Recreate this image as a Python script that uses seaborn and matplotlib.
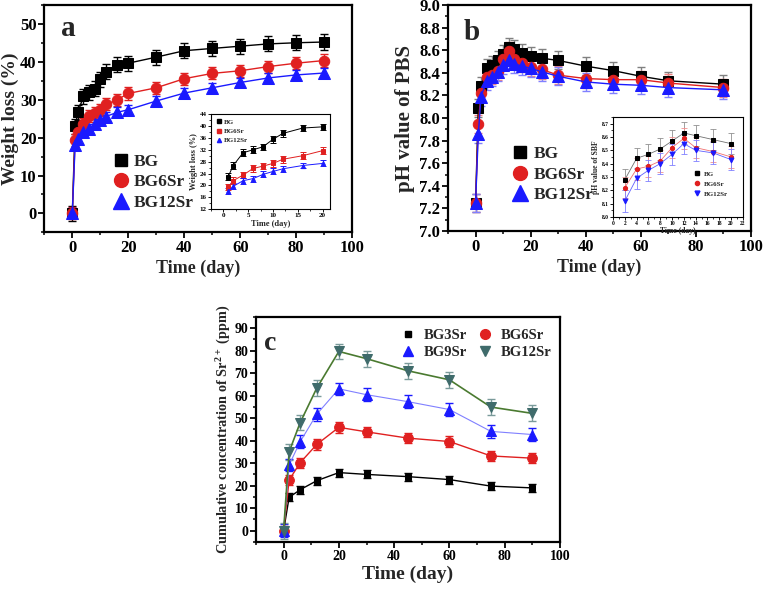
import numpy as np
import seaborn as sns
import matplotlib.pyplot as plt
from matplotlib.lines import Line2D
from matplotlib.ticker import AutoMinorLocator

# ---- panel a: weight loss ----
days_a = [0, 1, 2, 4, 6, 8, 10, 12, 16, 20, 30, 40, 50, 60, 70, 80, 90]
wl_bg = [0, 23.0, 26.7, 31.0, 32.0, 33.0, 35.5, 37.5, 39.3, 39.7, 41.3, 43.0, 43.6, 44.2, 44.8, 45.1, 45.3]
wl_bg6 = [0, 19.4, 21.6, 23.5, 25.7, 26.5, 27.4, 28.8, 30.0, 31.7, 33.2, 35.6, 37.0, 37.7, 38.8, 39.7, 40.4]
wl_bg12 = [0, 18.0, 19.7, 21.6, 22.3, 23.7, 24.7, 25.6, 26.7, 27.4, 29.7, 31.8, 33.2, 34.6, 35.8, 36.6, 37.1]
wl_err = [2.0, 1.6, 1.3]

# ---- panel b: pH of PBS ----
days_b = [0, 1, 2, 4, 6, 8, 10, 12, 14, 17, 20, 24, 30, 40, 50, 60, 70, 90]
ph_bg = [7.25, 8.09, 8.28, 8.44, 8.47, 8.51, 8.57, 8.63, 8.61, 8.58, 8.55, 8.53, 8.51, 8.46, 8.42, 8.37, 8.33, 8.30]
ph_bg6 = [7.25, 7.95, 8.22, 8.36, 8.38, 8.42, 8.52, 8.59, 8.52, 8.49, 8.45, 8.43, 8.38, 8.35, 8.34, 8.34, 8.31, 8.27]
ph_bg12 = [7.25, 7.86, 8.19, 8.33, 8.36, 8.41, 8.47, 8.51, 8.48, 8.46, 8.44, 8.41, 8.37, 8.32, 8.30, 8.29, 8.27, 8.25]
ph_err = 0.08

# inset b (SBF)
days_sbf = [2, 4, 6, 8, 10, 12, 14, 17, 20]
sbf_bg = [8.28, 8.44, 8.47, 8.51, 8.57, 8.63, 8.61, 8.58, 8.55]
sbf_bg6 = [8.22, 8.36, 8.38, 8.42, 8.52, 8.59, 8.52, 8.49, 8.45]
sbf_bg12 = [8.12, 8.29, 8.35, 8.40, 8.47, 8.55, 8.50, 8.48, 8.43]

# ---- panel c: Sr release ----
days_c = [0, 2, 6, 12, 20, 30, 45, 60, 75, 90]
sr_bg3 = [0, 14.8, 18.2, 22.2, 25.8, 25.0, 24.0, 22.7, 19.8, 19.0]
sr_bg6 = [0, 22.5, 30.2, 38.3, 45.9, 43.9, 41.1, 39.6, 33.2, 32.2]
sr_bg9 = [0, 29.2, 39.5, 51.7, 63.0, 60.4, 57.3, 53.8, 44.1, 42.7]
sr_bg12 = [0, 35.0, 48.0, 63.3, 79.6, 76.4, 71.0, 67.0, 54.9, 52.1]
sr_err = [1.8, 2.3, 2.8, 3.5]

RED = '#e02020'
BLUE = '#1a1aff'
TEAL = '#3f6b6b'
GREEN = '#4a7a30'

sns.set_style('ticks')
plt.rcParams['font.family'] = ['Liberation Serif', 'DejaVu Serif']
plt.rcParams['font.weight'] = 'bold'
plt.rcParams['axes.labelweight'] = 'bold'
plt.rcParams['mathtext.fontset'] = 'custom'
plt.rcParams['mathtext.rm'] = 'Liberation Serif:bold'
plt.rcParams['mathtext.bf'] = 'Liberation Serif:bold'

fig = plt.figure(figsize=(7.64, 5.91), dpi=100)


def style(ax, lw=1.6, size=12, tl=4, pad=2):
    for s in ax.spines.values():
        s.set_linewidth(lw)
        s.set_color('black')
    ax.tick_params(direction='out', width=lw * 0.8, length=tl, labelsize=size,
                   top=False, right=False, colors='black', pad=pad)
    ax.tick_params(which='minor', direction='out', width=lw * 0.8, length=tl * 0.6,
                   top=False, right=False)
    ax.xaxis.set_minor_locator(AutoMinorLocator(2))
    ax.yaxis.set_minor_locator(AutoMinorLocator(2))
    ax.set_facecolor('white')


def series(ax, x, y, err, color, marker, ms, ecolor=None, lcolor=None,
           lw=1.0, elw=1.0, cap=3):
    ax.errorbar(x, y, yerr=err, fmt='none', ecolor=ecolor or color, elinewidth=elw,
                capsize=cap, capthick=elw, zorder=2)
    sns.lineplot(x=x, y=y, ax=ax, color=lcolor or color, lw=lw, marker=marker,
                 markersize=ms, markeredgecolor=color, markerfacecolor=color,
                 zorder=3, legend=False, sort=False)


def proxy(color, marker, ms):
    return Line2D([], [], ls='none', marker=marker, color=color, markersize=ms)


# ---------- panel a ----------
ax_a = fig.add_axes([0.058, 0.607, 0.403, 0.384])
series(ax_a, days_a, wl_bg, wl_err[0], 'black', 's', 6.5)
series(ax_a, days_a, wl_bg6, wl_err[1], RED, 'o', 7.5)
series(ax_a, days_a, wl_bg12, wl_err[2], BLUE, '^', 8)
ax_a.set_xlim(-10, 100)
ax_a.set_ylim(-5, 55)
ax_a.set_xticks(range(0, 101, 20))
ax_a.set_yticks(range(0, 51, 10))
style(ax_a, size=12, pad=1.5)
ax_a.set_xlabel('Time (day)', fontsize=13, labelpad=3)
ax_a.set_ylabel('Weight loss (%)', fontsize=14, labelpad=1)
ax_a.text(0.055, 0.9, 'a', transform=ax_a.transAxes, fontsize=21, fontweight='bold',
          va='center')
ax_a.legend([proxy('black', 's', 9), proxy(RED, 'o', 10), proxy(BLUE, '^', 11)],
            ['BG', 'BG6Sr', 'BG12Sr'], loc='center left', bbox_to_anchor=(0.18, 0.22),
            frameon=False, fontsize=12.5, handlelength=0.7, handletextpad=0.35,
            labelspacing=0.25)

# inset a
ia = fig.add_axes([0.276, 0.646, 0.156, 0.161])
n = 10
series(ia, days_a[1:n], wl_bg[1:n], 1.1, 'black', 's', 3, lw=0.7, elw=0.7, cap=2)
series(ia, days_a[1:n], wl_bg6[1:n], 1.1, RED, 's', 3, lw=0.7, elw=0.7, cap=2)
series(ia, days_a[1:n], wl_bg12[1:n], 1.0, BLUE, '^', 3, lw=0.7, elw=0.7, cap=2)
ia.set_xlim(-2.5, 21.5)
ia.set_ylim(12, 44)
ia.set_xticks(range(0, 21, 5))
ia.set_yticks(range(12, 45, 4))
style(ia, lw=0.8, size=5, tl=2, pad=1)
ia.set_xlabel('Time (day)', fontsize=6, labelpad=1)
ia.set_ylabel('Weight loss (%)', fontsize=6, labelpad=1)
ia.legend([proxy('black', 's', 3), proxy(RED, 's', 3), proxy(BLUE, '^', 3)],
          ['BG', 'BG6Sr', 'BG12Sr'], loc='upper left', frameon=False, fontsize=5,
          handlelength=0.8, handletextpad=0.3, labelspacing=0.5, borderaxespad=0.3)

# ---------- panel b ----------
ax_b = fig.add_axes([0.5864, 0.609, 0.3966, 0.3824])
series(ax_b, days_b, ph_bg, ph_err, 'black', 's', 6.5, ecolor='#808080')
series(ax_b, days_b, ph_bg6, ph_err, RED, 'o', 7.5, ecolor='#f08080')
series(ax_b, days_b, ph_bg12, ph_err, BLUE, '^', 8, ecolor='#8080ff')
ax_b.set_xlim(-10, 100)
ax_b.set_ylim(7.0, 9.0)
ax_b.set_xticks(range(0, 101, 20))
ax_b.set_yticks(np.arange(7.0, 9.01, 0.2))
style(ax_b, size=12, pad=1.5)
ax_b.set_yticklabels([f'{v:.1f}' for v in np.arange(7.0, 9.01, 0.2)])
ax_b.set_xlabel('Time (day)', fontsize=13, labelpad=3)
ax_b.set_ylabel('pH value of PBS', fontsize=15, labelpad=3)
ax_b.text(0.05, 0.88, 'b', transform=ax_b.transAxes, fontsize=21, fontweight='bold',
          va='center')
ax_b.legend([proxy('black', 's', 9), proxy(RED, 'o', 10), proxy(BLUE, '^', 11)],
            ['BG', 'BG6Sr', 'BG12Sr'], loc='center left', bbox_to_anchor=(0.165, 0.25),
            frameon=False, fontsize=12.5, handlelength=0.7, handletextpad=0.45,
            labelspacing=0.25)

# inset b
ib = fig.add_axes([0.8024, 0.633, 0.170, 0.169])
series(ib, days_sbf, sbf_bg, 0.08, 'black', 's', 3, ecolor='#909090',
       lcolor='#707070', lw=0.6, elw=0.6, cap=2)
series(ib, days_sbf, sbf_bg6, 0.08, RED, 'o', 3, ecolor='#f09090',
       lcolor='#f07070', lw=0.6, elw=0.6, cap=2)
series(ib, days_sbf, sbf_bg12, 0.08, BLUE, 'v', 3.5, ecolor='#8080ff',
       lcolor='#6060ff', lw=0.6, elw=0.6, cap=2)
ib.set_xlim(0, 22)
ib.set_ylim(8.0, 8.75)
ib.set_xticks(range(0, 23, 2))
ib.set_yticks(np.arange(8.0, 8.71, 0.1))
style(ib, lw=0.8, size=4, tl=2, pad=1)
ib.set_yticklabels([f'{v:.1f}' for v in np.arange(8.0, 8.71, 0.1)])
ib.set_xlabel('Time (day)', fontsize=5.5, labelpad=1)
ib.set_ylabel('pH value of SBF', fontsize=5.5, labelpad=1)
ib.legend([proxy('black', 's', 3), proxy(RED, 'o', 3), proxy(BLUE, 'v', 3.5)],
          ['BG', 'BG6Sr', 'BG12Sr'], loc='center left', bbox_to_anchor=(0.58, 0.33),
          frameon=False, fontsize=5, handlelength=0.8, handletextpad=0.5,
          labelspacing=0.6)

# ---------- panel c ----------
ax_c = fig.add_axes([0.335, 0.083, 0.398, 0.381])
series(ax_c, days_c, sr_bg3, sr_err[0], 'black', 's', 5)
series(ax_c, days_c, sr_bg6, sr_err[1], RED, 'o', 7)
series(ax_c, days_c, sr_bg9, sr_err[2], BLUE, '^', 7.5, lcolor='#8080ff', lw=0.8)
series(ax_c, days_c, sr_bg12, sr_err[3], TEAL, 'v', 7.5, ecolor='#7a9a9a',
       lcolor=GREEN, lw=1.2)
ax_c.set_xlim(-10, 100)
ax_c.set_ylim(-5, 95)
ax_c.set_xticks(range(0, 101, 20))
ax_c.set_yticks(range(0, 91, 10))
style(ax_c, size=10, pad=1.5)
ax_c.set_xlabel('Time (day)', fontsize=14, labelpad=2)
ax_c.set_ylabel('Cumulative concentration of Sr$^{2+}$ (ppm)', fontsize=10.3, labelpad=2)
ax_c.text(0.025, 0.88, 'c', transform=ax_c.transAxes, fontsize=20, fontweight='bold',
          va='center')
# two-column legend, filled row by row like the original
ax_c.legend([proxy('black', 's', 5), proxy(BLUE, '^', 7),
             proxy(RED, 'o', 7), proxy(TEAL, 'v', 7)],
            ['BG3Sr', 'BG9Sr', 'BG6Sr', 'BG12Sr'], loc='upper right',
            bbox_to_anchor=(1.01, 1.0), ncol=2,
            frameon=False, fontsize=10.5, handlelength=0.8, handletextpad=0.7,
            columnspacing=0.8, labelspacing=0.3, borderaxespad=0.4)

fig.savefig('out.png', dpi=100)
